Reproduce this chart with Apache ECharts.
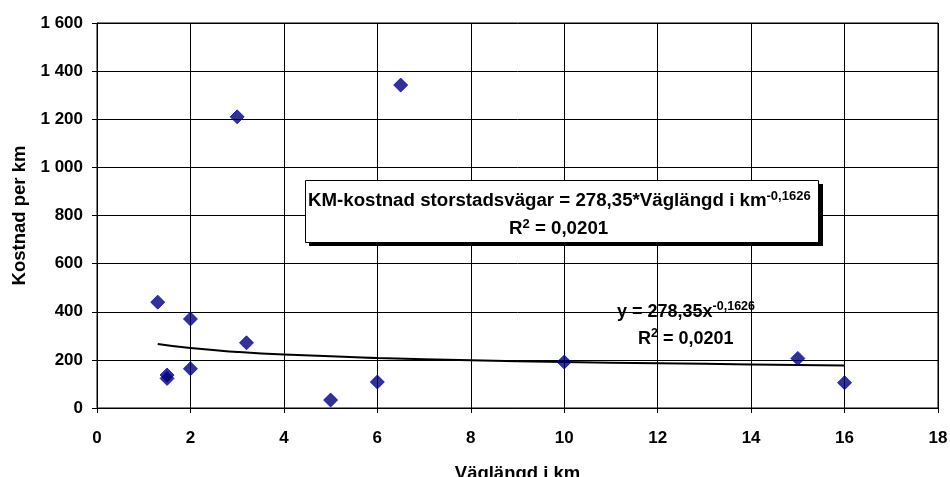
<!DOCTYPE html>
<html><head><meta charset="utf-8">
<script src="https://cdn.jsdelivr.net/npm/echarts@6/dist/echarts.min.js"></script>
<style>html,body{margin:0;padding:0;background:#fff}#c{width:950px;height:477px}</style>
</head><body><div id="c"></div>
<script>
// Scatter data (Väglängd i km, Kostnad per km)
const pointX = [1.3, 1.5, 1.5, 2, 2, 3, 3.2, 5, 6, 6.5, 10, 15, 16];
const pointY = [440, 137, 123, 370, 163, 1210, 271, 33, 108, 1342, 191, 206, 105];
// Trend line values
const trendX = [1.3, 2, 3, 4, 6, 8, 10, 12, 14, 16];
const trendY = [266, 249, 233, 222, 208, 198, 191, 186, 181, 177];
const xTicks = [0, 2, 4, 6, 8, 10, 12, 14, 16, 18];
const yTicks = [0, 200, 400, 600, 800, 1000, 1200, 1400, 1600];

const FONT = 'Liberation Sans, Arial, sans-serif';
const chart = echarts.init(document.getElementById('c'), null, {renderer: 'canvas'});
const fmtY = v => String(v).replace(/\B(?=(\d{3})+(?!\d))/g, ' ');
const sup = {fontSize: 12.5, fontWeight: 'bold', fontFamily: FONT, fill: '#000', verticalAlign: 'top', padding: [0,0,10,0]};
const base = {fontSize: 18, fontWeight: 'bold', fontFamily: FONT, fill: '#000'};
const boxBase = {fontSize: 18.7, fontWeight: 'bold', fontFamily: FONT, fill: '#000'};
const boxSup = {fontSize: 13, fontWeight: 'bold', fontFamily: FONT, fill: '#000', verticalAlign: 'top', padding: [0,0,10,0]};

chart.setOption({
  animation: false,
  backgroundColor: '#fff',
  grid: {left: 97, right: 12, top: 23, bottom: 69, show: true, borderColor: '#000', borderWidth: 1,
         containLabel: false, outerBoundsMode: 'none'},
  xAxis: {
    type: 'value', min: xTicks[0], max: xTicks[xTicks.length-1], interval: 2,
    name: 'Väglängd i km', nameLocation: 'middle', nameGap: 56,
    nameTextStyle: {fontSize: 18.5, fontWeight: 'bold', fontFamily: FONT, color: '#000'},
    axisLine: {show: true, lineStyle: {color: '#000', width: 1}},
    axisTick: {show: true, length: 5, lineStyle: {color: '#000'}},
    axisLabel: {fontSize: 17, fontWeight: 'bold', fontFamily: FONT, color: '#000', margin: 22},
    splitLine: {show: true, lineStyle: {color: '#000', width: 1}}
  },
  yAxis: {
    type: 'value', min: yTicks[0], max: yTicks[yTicks.length-1], interval: 200,
    name: 'Kostnad per km', nameLocation: 'middle', nameGap: 67, nameRotate: 90,
    nameTextStyle: {fontSize: 18.5, fontWeight: 'bold', fontFamily: FONT, color: '#000'},
    axisLine: {show: true, lineStyle: {color: '#000', width: 1}},
    axisTick: {show: true, length: 5, lineStyle: {color: '#000'}},
    axisLabel: {fontSize: 17, fontWeight: 'bold', fontFamily: FONT, color: '#000', margin: 14, formatter: fmtY},
    splitLine: {show: true, lineStyle: {color: '#000', width: 1}}
  },
  series: [
    {
      type: 'line', data: trendX.map((x,i)=>[x, trendY[i]]), smooth: true, showSymbol: false,
      lineStyle: {color: '#000', width: 2}, z: 2
    },
    {
      type: 'scatter', data: pointX.map((x,i)=>[x, pointY[i]]), symbol: 'diamond', symbolSize: 14,
      itemStyle: {color: '#000070', borderColor: '#0000ff', borderWidth: 1}, z: 3
    }
  ],
  graphic: [
    {type: 'rect', shape: {x: 309, y: 184, width: 514, height: 62}, style: {fill: '#000'}, z: 10},
    {type: 'rect', shape: {x: 305.5, y: 180.5, width: 513, height: 62}, style: {fill: '#fff', stroke: '#000', lineWidth: 1}, z: 11},
    {type: 'text', x: 308, y: 201, z: 12, style: {
      text: '{b|KM-kostnad storstadsvägar = 278,35*Väglängd i km}{s|-0,1626}',
      rich: {b: boxBase, s: boxSup}, fontFamily: FONT, verticalAlign: 'middle'}},
    {type: 'text', x: 509, y: 229, z: 12, style: {
      text: '{b|R}{s|2}{b| = 0,0201}', rich: {b: boxBase, s: boxSup}, fontFamily: FONT, verticalAlign: 'middle'}},
    {type: 'text', x: 617, y: 312, z: 12, style: {
      text: '{b|y = 278,35x}{s|-0,1626}', rich: {b: base, s: sup}, fontFamily: FONT, verticalAlign: 'middle'}},
    {type: 'text', x: 638, y: 339, z: 12, style: {
      text: '{b|R}{s|2}{b| = 0,0201}', rich: {b: base, s: sup}, fontFamily: FONT, verticalAlign: 'middle'}}
  ]
});
</script></body></html>
